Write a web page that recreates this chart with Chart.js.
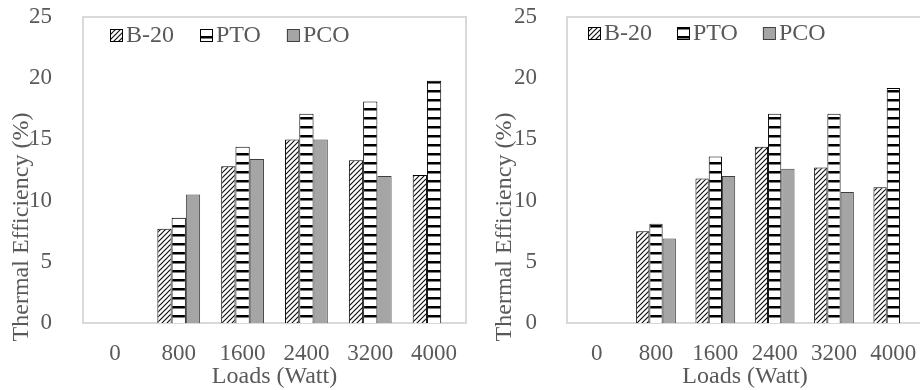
<!DOCTYPE html>
<html>
<head>
<meta charset="utf-8">
<script src="https://cdn.jsdelivr.net/npm/chart.js@4.4.1/dist/chart.umd.min.js"></script>
<style>
  html, body { margin: 0; padding: 0; background: #fff; overflow: hidden; width: 920px; height: 390px; }
  canvas { position: absolute; top: 0; }
  #chartLeft { left: 0; }
  #chartRight { left: 470px; }
</style>
</head>
<body>
<canvas id="chartLeft" width="480" height="390"></canvas>
<canvas id="chartRight" width="470" height="390"></canvas>
<script>
// loads on the x axis, same for both panels
const loads = ['0', '800', '1600', '2400', '3200', '4000'];
const seriesNames = ['B-20', 'PTO', 'PCO'];
const yMin = 0, yMax = 25, yStep = 5;

// left panel (%)
const leftB20 = [0, 7.7, 12.8, 15.0, 13.3, 12.1];
const leftPTO = [0, 8.6, 14.4, 17.1, 18.1, 19.8];
const leftPCO = [0, 10.5, 13.4, 15.0, 12.0, 0];

// right panel (%)
const rightB20 = [0, 7.5, 11.8, 14.4, 12.7, 11.1];
const rightPTO = [0, 8.1, 13.6, 17.1, 17.1, 19.2];
const rightPCO = [0, 6.9, 12.0, 12.6, 10.7, 0];

const FONT = '"Liberation Serif", "Times New Roman", serif';
const TEXT = '#595959';

Chart.defaults.font.family = FONT;
Chart.defaults.font.size = 23;
Chart.defaults.color = TEXT;

// fill patterns like the Excel ones
function hatchPattern() {
  const c = document.createElement('canvas');
  c.width = 5; c.height = 5;
  const g = c.getContext('2d');
  g.fillStyle = '#fff';
  g.fillRect(0, 0, 5, 5);
  g.strokeStyle = '#111';
  g.lineWidth = 1.2;
  g.beginPath();
  g.moveTo(0, 5); g.lineTo(5, 0);
  g.moveTo(-1, 1); g.lineTo(1, -1);
  g.moveTo(4, 6); g.lineTo(6, 4);
  g.stroke();
  return g.createPattern(c, 'repeat');
}

function stripePattern() {
  const c = document.createElement('canvas');
  c.width = 8; c.height = 9;
  const g = c.getContext('2d');
  g.fillStyle = '#fff';
  g.fillRect(0, 0, 8, 9);
  g.fillStyle = '#000';
  g.fillRect(0, 0, 8, 2.5);
  return g.createPattern(c, 'repeat');
}

// light grey box round the plot area
const plotBorder = {
  id: 'plotBorder',
  beforeDatasetsDraw(chart) {
    const { ctx, chartArea: a } = chart;
    ctx.save();
    ctx.strokeStyle = '#d9d9d9';
    ctx.lineWidth = 2;
    ctx.strokeRect(a.left, a.top, a.right - a.left, a.bottom - a.top);
    ctx.restore();
  }
};

// legend drawn inside the plot area, one row
const insideLegend = {
  id: 'insideLegend',
  afterDatasetsDraw(chart, args, opts) {
    const { ctx, chartArea: a } = chart;
    let x = a.left + opts.offsetX;
    const y = a.top + opts.offsetY;
    ctx.save();
    ctx.font = '24px ' + FONT;
    ctx.textBaseline = 'middle';
    chart.data.datasets.forEach(ds => {
      ctx.fillStyle = ds.backgroundColor;
      ctx.fillRect(x, y - 6, 12, 12);
      ctx.strokeStyle = ds.borderColor;
      ctx.lineWidth = 1;
      ctx.strokeRect(x + 0.5, y - 5.5, 12, 12);
      ctx.fillStyle = TEXT;
      ctx.fillText(ds.label, x + 16, y + 1);
      x += 16 + ctx.measureText(ds.label).width + opts.gap;
    });
    ctx.restore();
  }
};

// y title, placed a bit lower than the axis centre as in the original
const yTitle = {
  id: 'yTitle',
  afterDraw(chart, args, opts) {
    const ctx = chart.ctx;
    ctx.save();
    ctx.translate(opts.x, chart.chartArea.top + opts.y);
    ctx.rotate(-Math.PI / 2);
    ctx.font = '24px ' + FONT;
    ctx.fillStyle = TEXT;
    ctx.textAlign = 'center';
    ctx.textBaseline = 'middle';
    ctx.fillText(opts.text, 0, 0);
    ctx.restore();
  }
};

function makeChart(id, b20, pto, pco, cfg) {
  const ctx = document.getElementById(id).getContext('2d');
  return new Chart(ctx, {
    type: 'bar',
    data: {
      labels: loads,
      datasets: [
        { label: seriesNames[0], data: b20, backgroundColor: hatchPattern(), borderColor: '#000', borderWidth: 1 },
        { label: seriesNames[1], data: pto, backgroundColor: stripePattern(), borderColor: '#000', borderWidth: 1 },
        { label: seriesNames[2], data: pco, backgroundColor: '#a5a5a5', borderColor: '#3f3f3f', borderWidth: 1 }
      ]
    },
    options: {
      responsive: false,
      animation: false,
      layout: { padding: { top: 17, right: cfg.padRight, left: 0, bottom: 0 } },
      categoryPercentage: 0.67,
      barPercentage: 1,
      plugins: {
        legend: { display: false },
        tooltip: { enabled: false },
        insideLegend: { offsetX: cfg.legendX, offsetY: cfg.legendY, gap: cfg.legendGap },
        yTitle: { text: 'Thermal Efficiency (%)', x: cfg.titleX, y: 210 }
      },
      scales: {
        x: {
          grid: { display: false },
          border: { display: false },
          ticks: { padding: 9, maxRotation: 0 },
          title: { display: true, text: 'Loads (Watt)', font: { size: 24, lineHeight: 1.1 }, padding: { top: 0, bottom: 0 } },
          afterFit(scale) { scale.height = 67; scale.paddingLeft = 0; scale.paddingRight = 0; }
        },
        y: {
          min: yMin,
          max: yMax,
          grid: { display: false },
          border: { display: false },
          ticks: { stepSize: yStep, padding: cfg.tickPad },
          afterFit(scale) { scale.width = cfg.yWidth; scale.paddingTop = 0; scale.paddingBottom = 0; }
        }
      }
    },
    plugins: [plotBorder, insideLegend, yTitle]
  });
}

makeChart('chartLeft', leftB20, leftPTO, leftPCO,
  { padRight: 14, yWidth: 83, tickPad: 23, legendX: 27, legendY: 18, legendGap: 26, titleX: 22 });
makeChart('chartRight', rightB20, rightPTO, rightPCO,
  { padRight: 17, yWidth: 97, tickPad: 22, legendX: 21, legendY: 16, legendGap: 25, titleX: 35 });
</script>
</body>
</html>
